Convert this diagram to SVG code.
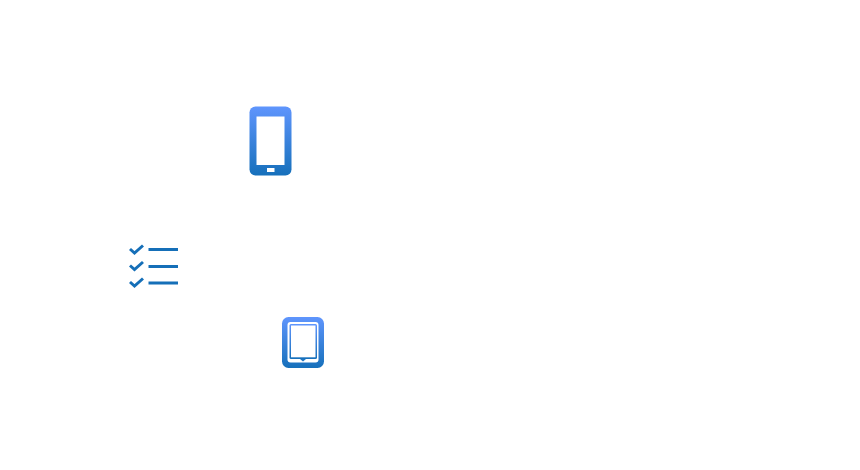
<svg xmlns="http://www.w3.org/2000/svg" width="860" height="470" viewBox="0 0 860 470">
<style>.l{stroke:#156fb8;stroke-width:3;fill:none}.c{stroke:#156fb8;stroke-width:3;fill:none}</style>
<defs><linearGradient id="g" x1="0" y1="0" x2="0" y2="1"><stop offset="0" stop-color="#5f95fd"/><stop offset="1" stop-color="#1670bb"/></linearGradient></defs>
<rect width="860" height="470" fill="#fff"/>
<g id="phone"><rect x="249.500" y="106.500" width="42" height="69" rx="6" fill="url(#g)"/><rect x="256.500" y="116.500" width="28" height="48.500" fill="#fff"/><rect x="267" y="168" width="7.500" height="4" fill="#fff"/></g>
<g id="checklist">
<path class="c" d="M130 249l4.500 4 8.500-7.500M130 265.500l4.500 4 8.500-7.500M130 282l4.500 4 8.500-7.500"/>
<path class="l" d="M148.500 249.500h29.500M148.500 266.500h29.500M148.500 283h29.500"/>
</g>
<g id="tablet"><rect x="282" y="317" width="42" height="51" rx="6.500" fill="url(#g)"/><rect x="287.500" y="322" width="31" height="40.500" rx="3" fill="#fff"/><rect x="289.500" y="324" width="27.500" height="35" rx="1.500" fill="url(#g)"/><rect x="291" y="325.500" width="24.500" height="31.800" fill="#fff"/><path d="M300 359h6l-3 2.500z" fill="#1f76c4"/></g>
<g id="connectors"></g>
</svg>
